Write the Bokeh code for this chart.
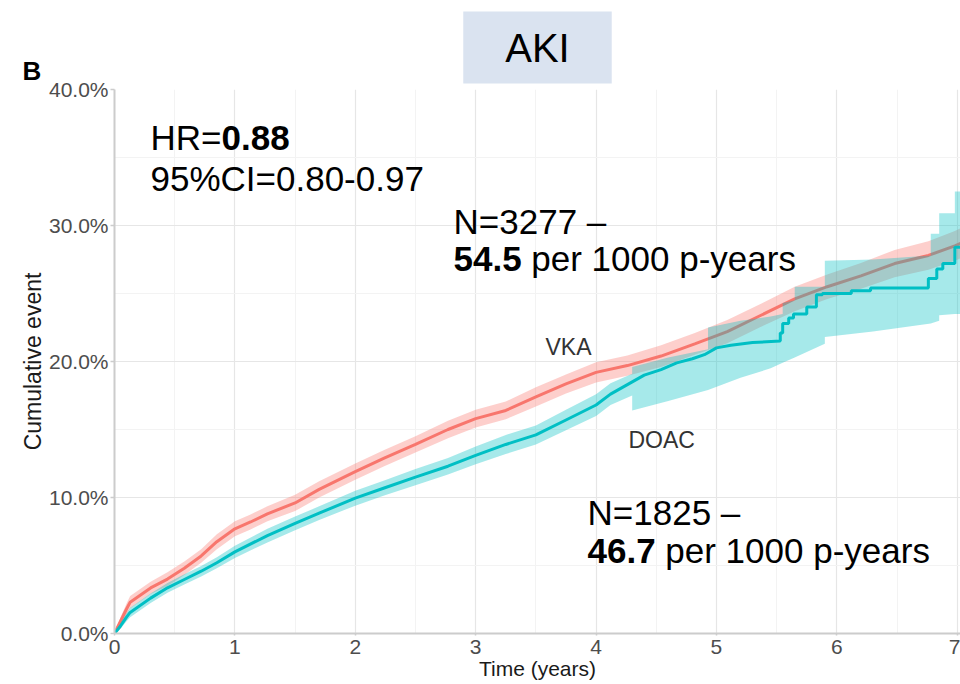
import math
from bokeh.plotting import figure
from bokeh.layouts import row
from bokeh.models import Range1d, FixedTicker, PrintfTickFormatter, Label, Title
from bokeh.embed import file_html
from bokeh.resources import INLINE

# ---------------- data ----------------
x_ticks = [0, 1, 2, 3, 4, 5, 6, 7]
x_minor = [0.5, 1.5, 2.5, 3.5, 4.5, 5.5, 6.5]
y_ticks = [0, 10, 20, 30, 40]
y_minor = [5, 15, 25, 35]

# VKA cumulative event (%)
vka_t = [0, 0.05, 0.10, 0.13, 0.30, 0.44, 0.58, 0.72, 0.85, 1.00, 1.13, 1.27, 1.50, 1.70,
         2.00, 2.24, 2.50, 2.77, 3.00, 3.25, 3.50, 3.75, 4.00, 4.26, 4.54, 4.82, 5.09,
         5.37, 5.65, 5.92, 6.20, 6.48, 6.76, 6.98, 7.03]
vka_v = [0, 0.9, 1.8, 2.3, 3.35, 4.0, 4.8, 5.7, 6.75, 7.7, 8.2, 8.8, 9.6, 10.6,
         11.9, 12.9, 13.9, 15.0, 15.8, 16.4, 17.4, 18.35, 19.2, 19.7, 20.4, 21.3, 22.2,
         23.4, 24.6, 25.5, 26.3, 27.2, 27.8, 28.5, 28.7]
vka_lo = [0, 0.6, 1.4, 1.85, 2.9, 3.5, 4.3, 5.2, 6.2, 7.15, 7.65, 8.25, 9.0, 10.0,
          11.3, 12.3, 13.3, 14.35, 15.15, 15.75, 16.7, 17.65, 18.45, 18.95, 19.6, 20.5, 21.35,
          22.55, 23.7, 24.6, 25.35, 26.2, 26.75, 27.4, 27.6]
vka_hi = [0, 1.2, 2.2, 2.75, 3.8, 4.5, 5.3, 6.2, 7.3, 8.25, 8.75, 9.35, 10.2, 11.2,
          12.5, 13.5, 14.5, 15.65, 16.45, 17.05, 18.1, 19.05, 19.95, 20.45, 21.2, 22.1, 23.05,
          24.25, 25.5, 26.4, 27.25, 28.2, 28.85, 29.6, 29.8]

# DOAC cumulative event (%), steps written as repeated times
doac_t = [0, 0.05, 0.10, 0.13, 0.30, 0.44, 0.58, 0.72, 0.85, 1.00, 1.27, 1.50, 1.70,
          2.00, 2.24, 2.50, 2.77, 3.00, 3.25, 3.50, 3.75, 4.00, 4.12, 4.26, 4.40, 4.54,
          4.67, 4.80, 4.90, 5.00, 5.12, 5.30, 5.53, 5.53, 5.55, 5.55, 5.60, 5.60, 5.64, 5.64,
          5.75, 5.75, 5.83, 5.83, 5.88, 5.88, 6.12, 6.12, 6.28, 6.28, 6.76, 6.76, 6.83, 6.83,
          6.88, 6.88, 6.98, 6.98, 7.03]
doac_v = [0, 0.55, 1.2, 1.55, 2.6, 3.36, 3.97, 4.58, 5.2, 6.0, 7.2, 8.1, 8.85,
          9.95, 10.7, 11.5, 12.3, 13.1, 13.9, 14.6, 15.7, 16.8, 17.6, 18.3, 19.0, 19.4,
          19.9, 20.2, 20.5, 21.0, 21.2, 21.4, 21.5, 22.1, 22.1, 22.8, 22.8, 23.2, 23.2, 23.5,
          23.5, 24.0, 24.0, 24.9, 24.9, 25.0, 25.0, 25.2, 25.2, 25.4, 25.4, 26.1, 26.1, 26.8,
          26.8, 27.2, 27.2, 28.4, 28.4]
doac_band_t = [0, 0.05, 0.10, 0.13, 0.30, 0.44, 0.58, 0.72, 0.85, 1.00, 1.27, 1.50, 1.70,
               2.00, 2.24, 2.50, 2.77, 3.00, 3.25, 3.50, 3.75, 4.00, 4.12, 4.30, 4.30,
               4.60, 4.93, 4.93, 5.20, 5.45, 5.55, 5.55, 5.65, 5.65, 5.90, 5.90, 6.30,
               6.78, 6.78, 6.85, 6.85, 6.98, 6.98, 7.03]
doac_lo = [0, 0.35, 0.9, 1.2, 2.25, 3.0, 3.6, 4.2, 4.8, 5.55, 6.7, 7.6, 8.35,
           9.4, 10.15, 10.9, 11.7, 12.45, 13.2, 13.9, 14.95, 16.0, 16.8, 17.5, 16.4,
           17.1, 17.9, 17.9, 18.8, 19.5, 19.9, 19.9, 20.3, 20.3, 21.3, 21.8, 22.2,
           22.8, 22.8, 23.0, 23.4, 23.5, 23.5, 23.5]
doac_hi = [0, 0.75, 1.5, 1.9, 2.95, 3.72, 4.35, 4.96, 5.6, 6.45, 7.7, 8.6, 9.35,
           10.5, 11.25, 12.1, 12.9, 13.75, 14.6, 15.3, 16.45, 17.6, 18.4, 19.1, 19.6,
           20.3, 20.9, 22.5, 23.0, 23.3, 23.5, 24.3, 24.5, 25.5, 25.5, 27.4, 27.5,
           27.8, 29.4, 29.4, 30.9, 30.9, 32.5, 32.5]

VKA_COLOR = "#F8766D"
DOAC_COLOR = "#00BFC4"
FONT = "Liberation Sans"
TOP, BOTTOM = 89, 51

# ---------------- left strip: panel letter and y axis title ----------------
STRIP_W = 45
FRAME_H = 684 - TOP - BOTTOM
q = figure(width=STRIP_W, height=684, output_backend="svg", toolbar_location=None,
           x_range=Range1d(0, STRIP_W), y_range=Range1d(0, FRAME_H),
           x_axis_type=None, y_axis_type=None,
           min_border_left=0, min_border_right=0, min_border_top=TOP, min_border_bottom=BOTTOM)
q.outline_line_color = None
q.grid.visible = False
q.background_fill_color = "white"
q.border_fill_color = "white"
q.title = Title(text="B", align="left", offset=22, standoff=7, text_font=FONT,
                text_font_size="26px", text_font_style="bold", text_color="black")
q.add_layout(Label(x=32, y=FRAME_H / 2, text="Cumulative event", angle=math.pi / 2,
                   text_font=FONT, text_font_size="23px", text_color="#1a1a1a",
                   text_align="center", text_baseline="middle"))

# ---------------- main plot ----------------
p = figure(width=960 - STRIP_W, height=684, output_backend="svg", toolbar_location=None,
           x_range=Range1d(0, 7.027), y_range=Range1d(0, 40),
           min_border_left=114 - STRIP_W, min_border_right=0, min_border_top=TOP,
           min_border_bottom=BOTTOM)
p.outline_line_color = None
p.background_fill_color = "white"
p.border_fill_color = "white"

p.title = Title(text="AKI", align="center", text_font=FONT, text_font_size="40px",
                text_font_style="normal", text_color="black",
                background_fill_color="#dae3f0", padding=(42, 14), standoff=12)

xt = FixedTicker(ticks=x_ticks, minor_ticks=x_minor)
yt = FixedTicker(ticks=y_ticks, minor_ticks=y_minor)
p.xaxis.ticker = xt
p.yaxis.ticker = yt
p.xgrid.ticker = xt
p.ygrid.ticker = yt
p.yaxis.formatter = PrintfTickFormatter(format="%.1f%%")

for g in (p.xgrid[0], p.ygrid[0]):
    g.grid_line_color = "#e6e6e6"
    g.grid_line_width = 1.2
    g.minor_grid_line_color = "#f3f3f3"
    g.minor_grid_line_width = 1

for ax in (p.xaxis[0], p.yaxis[0]):
    ax.axis_line_color = "#cccccc"
    ax.axis_line_width = 2
    ax.major_tick_line_color = "#cccccc"
    ax.major_tick_line_width = 1.5
    ax.major_tick_in = 0
    ax.minor_tick_line_color = None
    ax.major_label_text_font = FONT
    ax.major_label_text_font_size = "21px"
    ax.major_label_text_color = "#4d4d4d"
    ax.axis_label_text_font = FONT
    ax.axis_label_text_font_style = "normal"
    ax.axis_label_text_color = "#1a1a1a"

p.xaxis.major_tick_out = 2
p.xaxis.major_label_standoff = 2
p.xaxis.axis_label = "Time (years)"
p.xaxis.axis_label_text_font_size = "21px"
p.xaxis.axis_label_standoff = 0

p.yaxis.major_tick_out = 4
p.yaxis.major_label_standoff = 2

# ---------------- curves ----------------
p.varea(x=vka_t, y1=vka_lo, y2=vka_hi, fill_color=VKA_COLOR, fill_alpha=0.35)
p.line(vka_t, vka_v, line_color=VKA_COLOR, line_width=3)
p.varea(x=doac_band_t, y1=doac_lo, y2=doac_hi, fill_color=DOAC_COLOR, fill_alpha=0.35)
p.line(doac_t, doac_v, line_color=DOAC_COLOR, line_width=3)

# ---------------- annotations ----------------
def lab(x, y, text, size, bold=False, color="black", align="left"):
    p.add_layout(Label(x=x, y=y, text=text, text_font=FONT, text_font_size=size,
                       text_font_style="bold" if bold else "normal", text_color=color,
                       text_align=align, text_baseline="alphabetic"))

BIG = "35px"
lab(0.299, 36.47, "HR=", BIG)
lab(0.889, 36.47, "0.88", BIG, bold=True)
lab(0.299, 33.46, "95%CI=0.80-0.97", BIG)
lab(2.816, 30.29, "N=3277 \u2013", BIG)
lab(2.816, 27.57, "54.5", BIG, bold=True)
lab(3.462, 27.57, "per 1000 p-years", BIG)
lab(3.929, 8.90, "N=1825 \u2013", BIG)
lab(3.929, 6.10, "46.7", BIG, bold=True)
lab(4.575, 6.10, "per 1000 p-years", BIG)
lab(3.580, 21.03, "VKA", "23px", color="#333333")
lab(4.269, 14.26, "DOAC", "23px", color="#333333")

layout = row(q, p, spacing=0)
open("out.html", "w").write(file_html(layout, INLINE))
